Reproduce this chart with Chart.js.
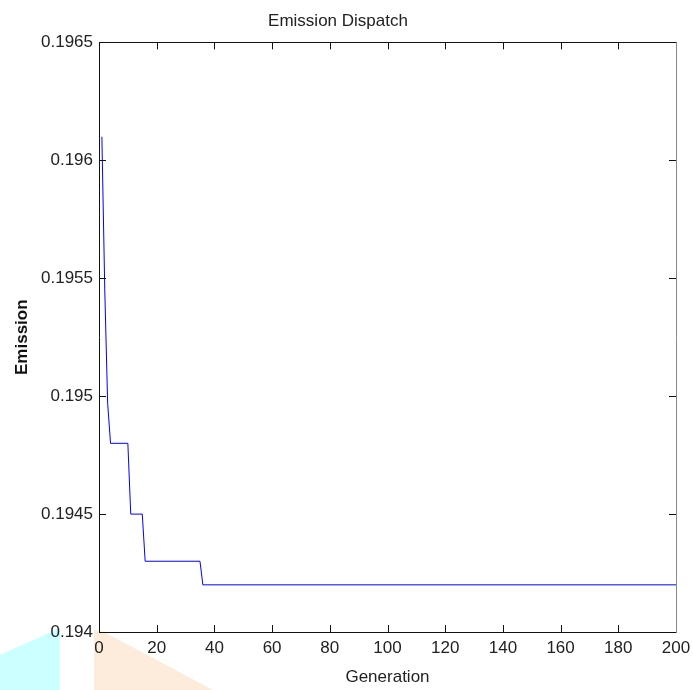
<!DOCTYPE html>
<html>
<head>
<meta charset="utf-8">
<script src="https://cdn.jsdelivr.net/npm/chart.js@4.4.0/dist/chart.umd.min.js"></script>
<style>
  html, body { margin: 0; padding: 0; background: #fff; }
  #wrap { width: 693px; height: 690px; }
</style>
</head>
<body>
<div id="wrap"><canvas id="myChart" width="693" height="690"></canvas></div>
<script>
// values (step points of the convergence curve)
const generations = [1, 2, 3, 4, 10, 11, 15, 16, 35, 36, 200];
const emission = [0.1961, 0.19545, 0.19497, 0.1948, 0.1948, 0.1945, 0.1945, 0.1943, 0.1943, 0.1942, 0.1942];

const xRange = [0, 200];
const xStep = 20;
const yRange = [0.194, 0.1965];
const yStep = 0.0005;

const titleText = "Emission Dispatch";
const xTitle = "Generation";
const yTitle = "Emission";

const points = generations.map((g, i) => ({ x: g, y: emission[i] }));

// the light shapes at the bottom left of the picture
const backdrop = {
  id: "backdrop",
  beforeDraw(chart) {
    const ctx = chart.ctx;
    ctx.save();
    ctx.fillStyle = "#ccffff";
    ctx.beginPath();
    ctx.moveTo(0, 655);
    ctx.lineTo(60, 628);
    ctx.lineTo(60, 690);
    ctx.lineTo(0, 690);
    ctx.closePath();
    ctx.fill();
    ctx.fillStyle = "#fdecdb";
    ctx.beginPath();
    ctx.moveTo(94, 630);
    ctx.lineTo(104, 632);
    ctx.lineTo(213, 690);
    ctx.lineTo(94, 690);
    ctx.closePath();
    ctx.fill();
    ctx.restore();
  },
};

// matlab style box with ticks pointing inwards on all four sides
const boxTicks = {
  id: "boxTicks",
  afterDraw(chart) {
    const { ctx, chartArea: a, scales } = chart;
    const x = scales.x, y = scales.y;
    const len = 7;
    ctx.save();
    ctx.lineWidth = 1;
    ctx.strokeStyle = "#111";
    ctx.beginPath();
    x.ticks.forEach((t) => {
      const px = Math.round(x.getPixelForValue(t.value)) + 0.5;
      ctx.moveTo(px, a.bottom);
      ctx.lineTo(px, a.bottom - len);
      ctx.moveTo(px, a.top);
      ctx.lineTo(px, a.top + len);
    });
    y.ticks.forEach((t) => {
      const py = Math.round(y.getPixelForValue(t.value)) + 0.5;
      ctx.moveTo(a.left, py);
      ctx.lineTo(a.left + len, py);
      ctx.moveTo(a.right, py);
      ctx.lineTo(a.right - len, py);
    });
    ctx.stroke();
    const l = Math.round(a.left) + 0.5, r = Math.round(a.right) + 0.5;
    const tp = Math.round(a.top) + 0.5, b = Math.round(a.bottom) + 0.5;
    ctx.beginPath();
    ctx.moveTo(r, tp);
    ctx.lineTo(l, tp);
    ctx.lineTo(l, b);
    ctx.lineTo(r, b);
    ctx.stroke();
    ctx.strokeStyle = "#8a8a8a";
    ctx.beginPath();
    ctx.moveTo(r, tp);
    ctx.lineTo(r, b);
    ctx.stroke();
    ctx.restore();
  },
};

Chart.defaults.font.family = "'Liberation Sans', Arial, sans-serif";
Chart.defaults.color = "#222";

const ctx = document.getElementById("myChart").getContext("2d");
new Chart(ctx, {
  type: "line",
  data: {
    datasets: [
      {
        label: "Emission",
        data: points,
        borderColor: "#0000ff",
        borderWidth: 1,
        pointRadius: 0,
        fill: false,
        tension: 0,
      },
    ],
  },
  options: {
    responsive: false,
    animation: false,
    layout: { padding: { left: 0, right: 17, top: 0, bottom: 0 } },
    plugins: {
      legend: { display: false },
      tooltip: { enabled: false },
      title: {
        display: true,
        text: titleText,
        color: "#222",
        font: { size: 17, weight: "normal" },
        padding: { top: 11, bottom: 11 },
      },
    },
    scales: {
      x: {
        type: "linear",
        min: xRange[0],
        max: xRange[1],
        grid: { display: false, drawTicks: false },
        border: { display: false },
        ticks: { stepSize: xStep, padding: 6, font: { size: 17 }, color: "#222", maxRotation: 0 },
        title: {
          display: true,
          text: xTitle,
          color: "#222",
          font: { size: 17 },
          padding: { top: 0, bottom: 2 },
        },
        afterFit(scale) {
          scale.height = 58;
          scale.paddingRight = 0;
          scale.paddingLeft = 0;
        },
      },
      y: {
        min: yRange[0],
        max: yRange[1],
        grid: { display: false, drawTicks: false },
        border: { display: false },
        ticks: {
          stepSize: yStep,
          padding: 6,
          font: { size: 17 },
          color: "#222",
          callback: (v) => String(Number(v.toFixed(4))),
        },
        title: {
          display: true,
          text: yTitle,
          color: "#111",
          font: { size: 17, weight: "bold" },
          padding: { top: 12, bottom: 0 },
        },
        afterFit(scale) {
          scale.width = 99;
          scale.paddingTop = 0;
          scale.paddingBottom = 0;
        },
      },
    },
  },
  plugins: [backdrop, boxTicks],
});
</script>
</body>
</html>
